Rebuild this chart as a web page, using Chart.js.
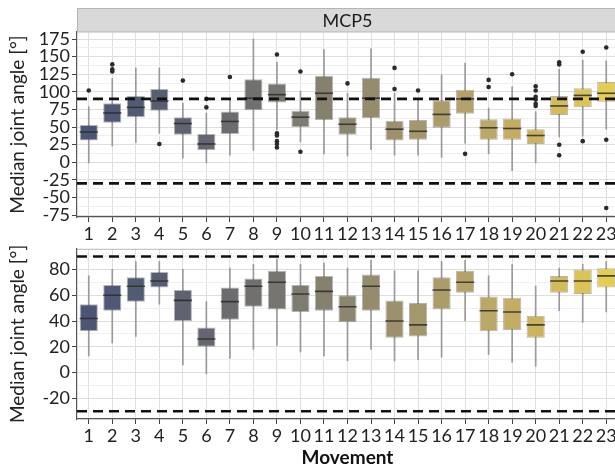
<!DOCTYPE html>
<html>
<head>
<meta charset="utf-8">
<script src="https://cdn.jsdelivr.net/npm/chart.js@4/dist/chart.umd.min.js"></script>
<style>
  html, body { margin: 0; padding: 0; background: #fff; overflow: hidden; }
  #wrap { position: relative; width: 615px; height: 466px; overflow: hidden; }
  .panel { position: absolute; left: 0; }
</style>
</head>
<body>
<div id="wrap">
  <div class="panel" style="top:0"><canvas id="topChart" width="625" height="245"></canvas></div>
  <div class="panel" style="top:236px"><canvas id="bottomChart" width="625" height="230"></canvas></div>
</div>
<script>
// categories
const movements = ['1','2','3','4','5','6','7','8','9','10','11','12','13','14','15','16','17','18','19','20','21','22','23'];
const stripLabel = 'MCP5';
const refLines = [90, -30];

// top panel (MCP5) box statistics
const topLow  = [-1, 23, 28, 41, 6, -1, 10, 17, 46, 29, 12, 9, 18, 10, 10, 7, 27, 12, -12, -1, 36, 37, 47];
const topQ1   = [31, 56, 64, 73, 39, 17, 40, 74, 85, 50, 60, 39, 63, 31, 32, 49, 69, 32, 32, 26, 67, 78, 86];
const topMed  = [43, 70, 78, 87, 55, 26, 58, 91, 96, 64, 98, 54, 91, 47, 44, 68, 90, 49, 48, 38, 80, 95, 98];
const topQ3   = [53, 84, 94, 104, 64, 40, 72, 118, 112, 73, 123, 64, 120, 59, 60, 88, 103, 61, 62, 47, 94, 105, 114];
const topHigh = [79, 119, 134, 134, 84, 70, 89, 175, 142, 101, 160, 98, 161, 98, 89, 124, 141, 77, 107, 72, 132, 145, 144];
const topOut  = [[102], [139, 132, 129], [], [26], [116], [78, 90], [121], [], [153, 41, 38, 30, 26, 21],
                 [129, 15], [], [112], [], [134, 104], [102], [], [12], [117, 107], [125],
                 [108, 102, 93, 89, 83, 80], [142, 139, 25, 10], [157, 30], [163, 32, -65]];
const topTicks = [175, 150, 125, 100, 75, 50, 25, 0, -25, -50, -75];

// bottom panel box statistics
const botLow  = [13, 23, 28, 53, 6, -1, 11, 18, 21, 16, 13, 9, 18, 9, 10, 12, 40, 14, 8, 5, 48, 39, 47];
const botQ1   = [32, 48, 55, 66, 40, 20, 41, 51, 49, 47, 48, 39, 48, 27, 28, 49, 62, 32, 33, 27, 62, 61, 66];
const botMed  = [42, 60, 67, 71, 56, 26, 55, 67, 70, 61, 63, 51, 67, 40, 37, 64, 70, 48, 47, 37, 71, 71, 75];
const botQ3   = [53, 68, 74, 78, 64, 35, 66, 73, 79, 68, 75, 60, 76, 56, 54, 74, 79, 59, 58, 44, 75, 80, 81];
const botHigh = [75, 80, 86, 86, 80, 55, 81, 84, 88, 84, 85, 81, 87, 79, 79, 86, 87, 75, 84, 67, 81, 84, 86];
const botTicks = [80, 60, 40, 20, 0, -20];

const boxColors = ['#4b5574', '#4f5874', '#535b73', '#585e72', '#5e6271', '#646670', '#6b6b70', '#71706f',
                   '#77756f', '#7e7b70', '#86816f', '#8d866e', '#958c6d', '#9c916c', '#a4976b', '#ac9c6a',
                   '#b4a268', '#bca866', '#c4ad63', '#ccb35f', '#d4bb5a', '#dcc356', '#e5cc52'];

const FONT = 'Lato, "Open Sans", sans-serif';

function withMinors(majors) {
  const sorted = majors.slice().sort((a, b) => a - b);
  const step = sorted[1] - sorted[0];
  const all = [sorted[0] - step / 2];
  sorted.forEach(v => { all.push(v); all.push(v + step / 2); });
  return all;
}

// draws medians, reference lines, strip and top border
const boxExtras = {
  id: 'boxExtras',
  afterDatasetsDraw(chart, args, opts) {
    const ctx = chart.ctx;
    const area = chart.chartArea;
    const y = chart.scales.y;
    const meta = chart.getDatasetMeta(1);
    ctx.save();
    ctx.beginPath();
    ctx.rect(area.left, area.top, area.right - area.left, area.bottom - area.top);
    ctx.clip();
    ctx.strokeStyle = 'rgba(45,45,45,0.85)';
    ctx.lineWidth = 1.6;
    meta.data.forEach((bar, i) => {
      const py = y.getPixelForValue(opts.medians[i]);
      ctx.beginPath();
      ctx.moveTo(bar.x - bar.width / 2, py);
      ctx.lineTo(bar.x + bar.width / 2, py);
      ctx.stroke();
    });
    ctx.strokeStyle = '#111';
    ctx.lineWidth = 2.6;
    ctx.setLineDash([10, 6]);
    refLines.forEach(v => {
      const py = y.getPixelForValue(v);
      ctx.beginPath();
      ctx.moveTo(area.left, py);
      ctx.lineTo(area.right, py);
      ctx.stroke();
    });
    ctx.restore();

    ctx.save();
    ctx.strokeStyle = '#b5b5b5';
    ctx.lineWidth = 1;
    if (opts.strip) {
      ctx.fillStyle = '#d9d9d9';
      ctx.fillRect(area.left, 8, chart.width - area.left, area.top - 8);
      ctx.strokeRect(area.left + 0.5, 8.5, chart.width, area.top - 8.5);
      ctx.fillStyle = '#1a1a1a';
      ctx.font = '18px ' + FONT;
      ctx.textAlign = 'center';
      ctx.textBaseline = 'middle';
      ctx.fillText(opts.strip, (area.left + area.right) / 2, (area.top + 8) / 2 + 1);
    } else {
      ctx.beginPath();
      ctx.moveTo(area.left, area.top + 0.5);
      ctx.lineTo(chart.width, area.top + 0.5);
      ctx.stroke();
    }
    ctx.restore();
  }
};

function makeChart(id, cfg) {
  const majors = cfg.ticks;
  const allTicks = withMinors(majors).filter(v => v >= cfg.min && v <= cfg.max);
  const outPoints = [];
  (cfg.out || []).forEach((list, i) => list.forEach(v => outPoints.push({ x: movements[i], y: v })));

  return new Chart(document.getElementById(id), {
    type: 'bar',
    data: {
      labels: movements,
      datasets: [
        {
          type: 'scatter',
          data: outPoints,
          pointRadius: 2.3,
          pointBackgroundColor: '#2b2b2b',
          pointBorderWidth: 0,
          order: 1
        },
        {
          data: cfg.q1.map((v, i) => [v, cfg.q3[i]]),
          backgroundColor: boxColors,
          borderColor: 'rgba(70,70,70,0.4)',
          borderWidth: 1,
          borderSkipped: false,
          grouped: false,
          barPercentage: 0.77,
          categoryPercentage: 1,
          order: 2
        },
        {
          data: cfg.low.map((v, i) => [v, cfg.high[i]]),
          backgroundColor: '#9a9a9a',
          barThickness: 1,
          grouped: false,
          order: 3
        }
      ]
    },
    options: {
      responsive: false,
      animation: false,
      layout: { padding: { top: cfg.padTop, right: 7, left: 0, bottom: 0 } },
      plugins: {
        legend: { display: false },
        tooltip: { enabled: false },
        boxExtras: { medians: cfg.med, strip: cfg.strip }
      },
      scales: {
        x: {
          type: 'category',
          offset: true,
          grid: { offset: false, color: '#e0e0e0', tickLength: 5, tickColor: '#444' },
          border: { color: '#555', width: 1.2 },
          ticks: { color: '#222', font: { family: FONT, size: 18 }, padding: 1, maxRotation: 0, autoSkip: false },
          title: {
            display: !!cfg.xTitle,
            text: cfg.xTitle,
            color: '#111',
            font: { family: FONT, size: 19, weight: 'bold' },
            padding: { top: 0, bottom: -3 }
          },
          afterFit: s => { s.height = cfg.xHeight; }
        },
        y: {
          type: 'linear',
          min: cfg.min,
          max: cfg.max,
          afterBuildTicks: s => { s.ticks = allTicks.map(v => ({ value: v })); },
          grid: {
            color: c => (c.tick && majors.includes(c.tick.value)) ? '#dedede' : '#f0f0f0',
            tickColor: c => (c.tick && majors.includes(c.tick.value)) ? '#444' : 'rgba(0,0,0,0)',
            tickLength: 5
          },
          border: { color: '#555', width: 1.2 },
          ticks: {
            autoSkip: false,
            color: '#222',
            font: { family: FONT, size: 18 },
            padding: 2,
            callback: v => majors.includes(v) ? String(v) : ''
          },
          title: {
            display: true,
            text: 'Median joint angle [°]',
            color: '#222',
            font: { family: FONT, size: 19 },
            padding: { top: 6, bottom: 0 }
          },
          afterFit: s => { s.width = 77; }
        }
      }
    },
    plugins: [boxExtras]
  });
}

makeChart('topChart', {
  low: topLow, q1: topQ1, med: topMed, q3: topQ3, high: topHigh, out: topOut,
  ticks: topTicks, min: -77.7, max: 185, padTop: 32, xHeight: 28, strip: stripLabel
});

makeChart('bottomChart', {
  low: botLow, q1: botQ1, med: botMed, q3: botQ3, high: botHigh, out: [],
  ticks: botTicks, min: -36, max: 96, padTop: 10, xHeight: 47, xTitle: 'Movement'
});
</script>
</body>
</html>
